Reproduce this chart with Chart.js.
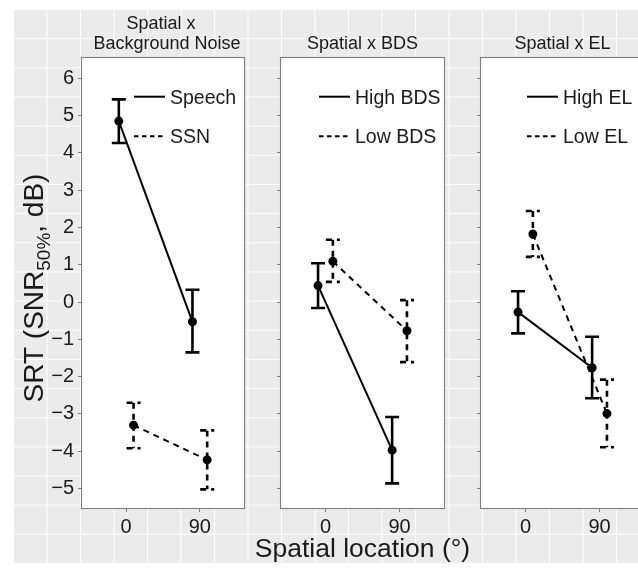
<!DOCTYPE html>
<html>
<head>
<meta charset="utf-8">
<script src="https://cdn.jsdelivr.net/npm/chart.js@4"></script>
<style>
  html, body { margin: 0; padding: 0; background: #fff; overflow: hidden; }
  #wrap { position: relative; width: 638px; height: 573px; overflow: hidden; }
  #bg {
    position: absolute; left: 13px; top: 9px; width: 625px; height: 554px;
    background-color: #ebebeb;
    background-image: linear-gradient(90deg, #fff 0, #fff 1.2px, transparent 1.2px),
                      linear-gradient(180deg, #fff 0, #fff 1.2px, transparent 1.2px);
    background-size: 33.5px 100%, 100% 29.16px;
  }
  canvas { position: absolute; top: 0; }
</style>
</head>
<body>
<div id="wrap">
  <div id="bg"></div>
  <canvas id="c1" width="262" height="573" style="left:0"></canvas>
  <canvas id="c2" width="240" height="573" style="left:240px"></canvas>
  <canvas id="c3" width="200" height="573" style="left:460px"></canvas>
</div>
<script>
// Datos
const categories = ['0', '90'];
const yTicks = [-5, -4, -3, -2, -1, 0, 1, 2, 3, 4, 5, 6];

const speechMean = [4.85, -0.53];
const speechLo = [4.26, -1.35];
const speechHi = [5.43, 0.33];
const ssnMean = [-3.30, -4.23];
const ssnLo = [-3.92, -5.02];
const ssnHi = [-2.70, -3.44];

const highBdsMean = [0.44, -3.97];
const highBdsLo = [-0.16, -4.86];
const highBdsHi = [1.04, -3.08];
const lowBdsMean = [1.09, -0.77];
const lowBdsLo = [0.54, -1.61];
const lowBdsHi = [1.67, 0.05];

const highElMean = [-0.27, -1.76];
const highElLo = [-0.84, -2.58];
const highElHi = [0.29, -0.93];
const lowElMean = [1.82, -2.99];
const lowElLo = [1.21, -3.89];
const lowElHi = [2.44, -2.08];

const yTitle = ['SRT (SNR', '50%', ', dB)'];
const xTitle = 'Spatial location (°)';

// Estilos
const FONT = '"Liberation Sans", Arial, sans-serif';
const INK = '#1a1a1a';
const yMin = -5.52, yMax = 6.54;
const dodge = [-0.1, 0.1];
const lineDash = [[], [6, 5]];
const keyDash = [[], [4.5, 3.5]];

const panels = [
    { id: 'c1', title: ['Spatial x', 'Background Noise'], titleDx: [-2, 4], names: ['Speech', 'SSN'],
      mean: [speechMean, ssnMean], lo: [speechLo, ssnLo], hi: [speechHi, ssnHi],
      axisW: 82, padRight: 18, legendX: 52, showY: true },
    { id: 'c2', title: ['Spatial x BDS'], titleDx: [0], names: ['High BDS', 'Low BDS'],
      mean: [highBdsMean, lowBdsMean], lo: [highBdsLo, lowBdsLo], hi: [highBdsHi, lowBdsHi],
      axisW: 41, padRight: 36, legendX: 38, showY: false, xTitle: true },
    { id: 'c3', title: ['Spatial x EL'], titleDx: [0], names: ['High EL', 'Low EL'],
      mean: [highElMean, lowElMean], lo: [highElLo, lowElLo], hi: [highElHi, lowElHi],
      axisW: 21, padRight: 16, legendX: 46, showY: false }
];

function facetPlugin(p) {
    return {
        id: 'facet',
        beforeDraw(chart) {
            const a = chart.chartArea, ctx = chart.ctx;
            ctx.save();
            ctx.fillStyle = '#fff';
            ctx.fillRect(a.left, a.top, a.right - a.left, a.bottom - a.top);
            ctx.restore();
        },
        beforeDatasetsDraw(chart) {
            // barras de error
            const ctx = chart.ctx, xs = chart.scales.x, ys = chart.scales.y;
            ctx.save();
            ctx.strokeStyle = '#000';
            ctx.lineWidth = 2.6;
            chart.data.datasets.forEach((ds, k) => {
                ctx.setLineDash(lineDash[k]);
                ds.data.forEach((pt, i) => {
                    const x = xs.getPixelForValue(pt.x);
                    const yl = ys.getPixelForValue(ds.errLo[i]);
                    const yh = ys.getPixelForValue(ds.errHi[i]);
                    ctx.beginPath();
                    ctx.moveTo(x - 7, yh); ctx.lineTo(x + 7, yh);
                    ctx.moveTo(x, yh); ctx.lineTo(x, yl);
                    ctx.moveTo(x - 7, yl); ctx.lineTo(x + 7, yl);
                    ctx.stroke();
                });
            });
            ctx.restore();
        },
        afterDraw(chart) {
            const a = chart.chartArea, ctx = chart.ctx;
            ctx.save();
            // borde del panel
            ctx.strokeStyle = '#7f7f7f';
            ctx.lineWidth = 1.1;
            ctx.strokeRect(a.left - 0.5, a.top - 0.5, a.right - a.left + 1, a.bottom - a.top + 1);

            // titulo de la faceta
            const cx = (a.left + a.right) / 2;
            ctx.fillStyle = INK;
            ctx.font = '18px ' + FONT;
            ctx.textAlign = 'center';
            ctx.textBaseline = 'alphabetic';
            const n = p.title.length;
            p.title.forEach((t, i) => {
                ctx.fillText(t, cx + p.titleDx[i], a.top - 8.7 - (n - 1 - i) * 20);
            });

            // leyenda
            ctx.textAlign = 'left';
            ctx.font = '19.5px ' + FONT;
            p.names.forEach((name, k) => {
                const y = a.top + [38.7, 78.3][k];
                const lx = a.left + p.legendX;
                ctx.strokeStyle = '#000';
                ctx.lineWidth = 2;
                ctx.setLineDash(keyDash[k]);
                ctx.beginPath();
                ctx.moveTo(lx, y); ctx.lineTo(lx + 31, y);
                ctx.stroke();
                ctx.fillText(name, lx + 36, y + 7);
            });
            ctx.setLineDash([]);

            // titulos de ejes
            if (p.showY) {
                ctx.translate(43, 288);
                ctx.rotate(-Math.PI / 2);
                const fonts = ['28px ' + FONT, '19px ' + FONT, '28px ' + FONT];
                const dy = [0, 7, 0];
                const widths = yTitle.map((t, i) => { ctx.font = fonts[i]; return ctx.measureText(t).width; });
                let x = -widths.reduce((s, w) => s + w, 0) / 2;
                yTitle.forEach((t, i) => {
                    ctx.font = fonts[i];
                    ctx.fillText(t, x, dy[i]);
                    x += widths[i];
                });
            }
            if (p.xTitle) {
                ctx.font = '26.5px ' + FONT;
                ctx.textAlign = 'center';
                ctx.fillText(xTitle, cx, 556.7);
            }
            ctx.restore();
        }
    };
}

function makeChart(p) {
    const tickFont = { family: FONT, size: 20 };
    return new Chart(document.getElementById(p.id), {
        type: 'line',
        data: {
            datasets: p.names.map((name, k) => ({
                label: name,
                data: p.mean[k].map((v, i) => ({ x: i + 1 + dodge[k], y: v })),
                errLo: p.lo[k],
                errHi: p.hi[k],
                borderColor: '#000',
                borderWidth: 2,
                borderDash: lineDash[k],
                pointRadius: 4.5,
                pointHoverRadius: 4.5,
                pointBackgroundColor: '#000',
                pointBorderWidth: 0,
                fill: false,
                tension: 0
            }))
        },
        options: {
            responsive: false,
            animation: false,
            events: [],
            layout: { padding: { top: 58, right: p.padRight, bottom: 0, left: 0 } },
            plugins: { legend: { display: false }, tooltip: { enabled: false } },
            scales: {
                x: {
                    type: 'linear', min: 0.4, max: 2.6,
                    afterFit: s => { s.height = 65; },
                    afterBuildTicks: s => { s.ticks = categories.map((c, i) => ({ value: i + 1 })); },
                    ticks: {
                        callback: v => categories[Math.round(v) - 1] || '',
                        font: tickFont, color: INK, padding: 3, maxRotation: 0, autoSkip: false
                    },
                    grid: { drawOnChartArea: false, tickLength: 4, color: '#808080' },
                    border: { display: false }
                },
                y: {
                    min: yMin, max: yMax,
                    afterFit: s => { s.width = p.axisW; },
                    afterBuildTicks: s => { s.ticks = yTicks.map(v => ({ value: v })); },
                    ticks: {
                        callback: v => p.showY ? String(v).replace('-', '\u2212') : '',
                        font: tickFont, color: INK, padding: 4
                    },
                    grid: { drawOnChartArea: false, tickLength: 4, color: '#808080' },
                    border: { display: false }
                }
            }
        },
        plugins: [facetPlugin(p)]
    });
}

panels.forEach(makeChart);
</script>
</body>
</html>
